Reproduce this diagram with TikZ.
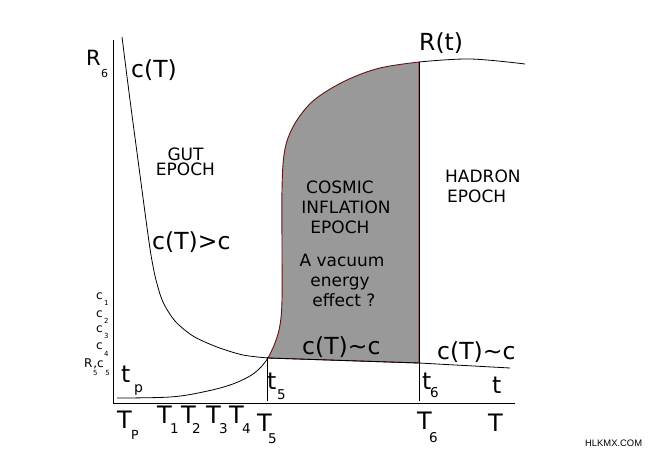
\documentclass[tikz,border=0pt]{standalone}
\usepackage{fontspec}
\setmainfont{DejaVu Sans}
\newfontfamily\wmfont{Liberation Sans}
\newcommand\myfs[1]{\fontsize{#1}{#1}\selectfont}
\newcommand\dn[4]{\kern#1pt\raisebox{-#2pt}{\myfs{#3}#4}}
\definecolor{shade}{RGB}{153,153,153}
\definecolor{edge}{RGB}{100,20,20}
\begin{document}
\begin{tikzpicture}[x=1pt,y=-1pt,
  lbl/.style={inner sep=0pt,anchor=base west},
  lblc/.style={inner sep=0pt,anchor=base},
  big/.style={lbl,font=\myfs{23.5}},
  bigT/.style={lbl,font=\myfs{24}},
  mid/.style={lblc,font=\myfs{17}},
  small/.style={lbl,font=\myfs{12}},
  curve/.style={line width=0.8pt,black}]
\useasboundingbox (0,0) rectangle (654,458);
% shaded inflation region
\filldraw[fill=shade,draw=edge,line width=0.9pt]
  plot[smooth,tension=0.6] coordinates {(268,358) (275,343) (280,325) (282,300) (282,250) (282,190) (284,155) (290,133) (302,113) (318,97) (347,80) (380,68) (419,62)}
  -- (419,363) -- (268,358) -- cycle;
% axes
\coordinate (O) at (113,403);
\coordinate (Ytop) at (113,40);
\coordinate (Xend) at (515,403);
\draw[curve] (Ytop) -- (O) -- (Xend);
% R(t) curve
\draw[curve] plot[smooth,tension=0.6] coordinates {(117,398) (170,397) (203,392) (230,385) (250,376) (261,367) (268,358)};
\draw[curve] plot[smooth,tension=0.6] coordinates {(419,62) (470,59) (525,64)};
% c(T) curve
\draw[curve] plot[smooth,tension=0.5] coordinates {(122,37) (130,100) (138,160) (146,220) (151,255) (156,280) (163,302) (175,321) (193,336) (217,347) (243,355) (268,358)};
\draw[curve] (268,358) -- (419,363) -- (510,368);
% vertical markers
\coordinate (t5top) at (267,357);
\coordinate (t5bot) at (267,401);
\coordinate (t6top) at (419,62);
\coordinate (t6bot) at (419,401);
\draw[curve] (t5top) -- (t5bot);
\draw[curve] (t6top) -- (t6bot);
% labels
\node[lbl,font=\myfs{21}] (R6) at (86,65) {R\dn{0.4}{12}{11}{6}};
\node[big] (cT) at (131,77) {c(T)};
\node[big] (cTg) at (152,249) {c(T)>c};
\node[big] (cTm) at (302,354) {c(T)\char"223C c};
\node[big] (cTr) at (437,359) {c(T)\char"223C c};
\node[big] (Rt) at (419,50) {R(t)};
\node[lblc,font=\fontsize{17}{15}\selectfont,align=center] (gut) at (185.5,175) {GUT\\EPOCH};
\node[mid] (ci1) at (340,193) {COSMIC};
\node[mid] (ci2) at (346,213) {INFLATION};
\node[mid] (ci3) at (340,233) {EPOCH};
\node[mid] (va1) at (342,266) {A vacuum};
\node[mid] (va2) at (340,286) {energy};
\node[mid] (va3) at (344,306) {effect ?};
\node[lbl,font=\myfs{17}] (h1) at (445,182) {HADRON};
\node[lbl,font=\myfs{17}] (h2) at (447,202) {EPOCH};
% c labels
\node[small] (c1) at (96,299) {c\dn{1.4}{6}{7}{1}};
\node[small] (c2) at (96,317) {c\dn{1.4}{6}{7}{2}};
\node[small] (c3) at (96,332) {c\dn{1.4}{6}{7}{3}};
\node[small] (c4) at (96,349) {c\dn{1.4}{7}{7}{4}};
\node[small] (R5) at (84,367) {R\dn{0.7}{8}{7}{5}\kern-4.4pt,c\dn{1.6}{8}{7}{5}};
% t labels
\node[big] (tp) at (121,382) {t\dn{3.8}{10.5}{14}{p}};
\node[big] (t5) at (267,389) {t\dn{0.8}{10}{13.5}{5}};
\node[big] (t6) at (422,389) {t\dn{-1.2}{8}{13.5}{6}};
\node[big] (tt) at (492,393) {t};
% T labels
\node[bigT] (TP) at (117,428) {T\dn{-0.7}{11}{12.5}{P}};
\node[bigT] (T1) at (157,423) {T\dn{-1.7}{10}{13.5}{1}};
\node[bigT] (T2) at (181,423) {T\dn{-3.7}{10}{13.5}{2}};
\node[bigT] (T3) at (206,423) {T\dn{-1.7}{10}{13.5}{3}};
\node[bigT] (T4) at (229,423) {T\dn{-1.7}{10}{13.5}{4}};
\node[bigT] (T5) at (257,431) {T\dn{-3.7}{12}{13.5}{5}};
\node[bigT] (T6) at (417,429) {T\dn{-2.7}{13}{13.5}{6}};
\node[bigT] (TT) at (488,431) {T};
% watermark
\node[lbl,font=\wmfont\myfs{9.4}] (wm) at (585,446) {HLKMX.COM};
\end{tikzpicture}
\end{document}
